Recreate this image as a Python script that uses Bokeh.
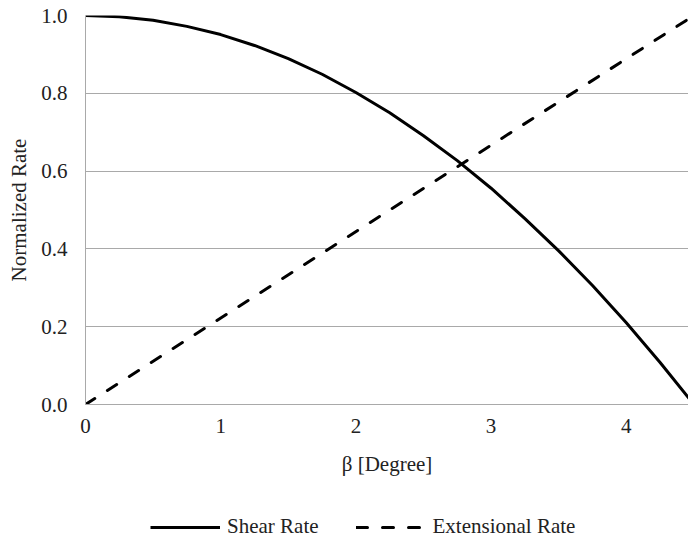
from bokeh.plotting import figure
from bokeh.layouts import column
from bokeh.models import Range1d, FixedTicker, Legend, LegendItem, ColumnDataSource, CustomJSTickFormatter
from bokeh.embed import file_html
from bokeh.resources import INLINE

# Data
beta_deg = [0.0, 0.25, 0.5, 0.75, 1.0, 1.25, 1.5, 1.75, 2.0, 2.25, 2.5, 2.75,
            3.0, 3.25, 3.5, 3.75, 4.0, 4.25, 4.5]
shear_rate = [1.000, 0.997, 0.988, 0.972, 0.951, 0.923, 0.889, 0.849, 0.802,
              0.750, 0.691, 0.627, 0.556, 0.478, 0.395, 0.306, 0.210, 0.108, 0.000]
ext_beta = [0.0, 4.5]
extensional_rate = [0.0, 1.0]

x_ticks = [0, 1, 2, 3, 4]
y_ticks = [0.0, 0.2, 0.4, 0.6, 0.8, 1.0]
series_names = ["Shear Rate", "Extensional Rate"]

FONT = "'Liberation Serif', 'Times New Roman', serif"
FS = "21px"
TXT = "#222222"
GRID = "#a9a9a9"
DASH = "11 15"

p = figure(width=688, height=484, output_backend="svg", toolbar_location=None,
           x_range=Range1d(0, 4.46), y_range=Range1d(0, 1.0),
           min_border_left=85, min_border_right=0, min_border_top=15, min_border_bottom=80)
p.outline_line_color = None
p.background_fill_color = "white"
p.border_fill_color = "white"

p.xgrid.visible = False
p.ygrid.grid_line_color = GRID
p.ygrid.grid_line_width = 1
p.ygrid.ticker = FixedTicker(ticks=y_ticks)

for ax in (p.xaxis[0], p.yaxis[0]):
    ax.axis_line_color = GRID
    ax.axis_line_width = 1
    ax.major_tick_line_color = None
    ax.minor_tick_line_color = None
    ax.major_tick_out = 0
    ax.major_tick_in = 0
    ax.major_label_text_font = FONT
    ax.major_label_text_font_size = FS
    ax.major_label_text_color = TXT
    ax.axis_label_text_font = FONT
    ax.axis_label_text_font_size = FS
    ax.axis_label_text_font_style = "normal"
    ax.axis_label_text_color = TXT

p.xaxis.ticker = FixedTicker(ticks=x_ticks)
p.yaxis.ticker = FixedTicker(ticks=y_ticks)
p.yaxis.formatter = CustomJSTickFormatter(code="return tick.toFixed(1);")
p.xaxis.major_label_standoff = 14
p.yaxis.major_label_standoff = 18
p.xaxis.axis_label = "β [Degree]"
p.yaxis.axis_label = "Normalized Rate"
p.xaxis.axis_label_standoff = 16
p.yaxis.axis_label_standoff = 7

src_s = ColumnDataSource(dict(x=beta_deg, y=shear_rate))
src_e = ColumnDataSource(dict(x=ext_beta, y=extensional_rate))
p.line("x", "y", source=src_s, line_color="black", line_width=3)
p.line("x", "y", source=src_e, line_color="black", line_width=3,
       line_dash=DASH, line_cap="round")

# Legend strip below the chart (same series, drawn out of view, only for legend swatches)
q = figure(width=688, height=57, output_backend="svg", toolbar_location=None,
           x_range=Range1d(100, 101), y_range=Range1d(100, 101),
           min_border_left=0, min_border_right=0, min_border_top=0, min_border_bottom=0)
q.axis.visible = False
q.grid.visible = False
q.outline_line_color = None
q.border_fill_color = "white"
q.background_fill_color = "white"
l1 = q.line("x", "y", source=src_s, line_color="black", line_width=3)
l2 = q.line("x", "y", source=src_e, line_color="black", line_width=3,
            line_dash=DASH, line_cap="round")

legend = Legend(items=[LegendItem(label=series_names[0], renderers=[l1]),
                       LegendItem(label=series_names[1], renderers=[l2])],
                location=(65, 2), orientation="horizontal",
                glyph_width=70, glyph_height=20, label_standoff=7, spacing=37,
                padding=0, margin=0, border_line_color=None,
                background_fill_alpha=0,
                label_text_font=FONT, label_text_font_size=FS,
                label_text_color=TXT)
q.add_layout(legend)

open("out.html", "w").write(file_html(column(p, q, spacing=0), INLINE))
